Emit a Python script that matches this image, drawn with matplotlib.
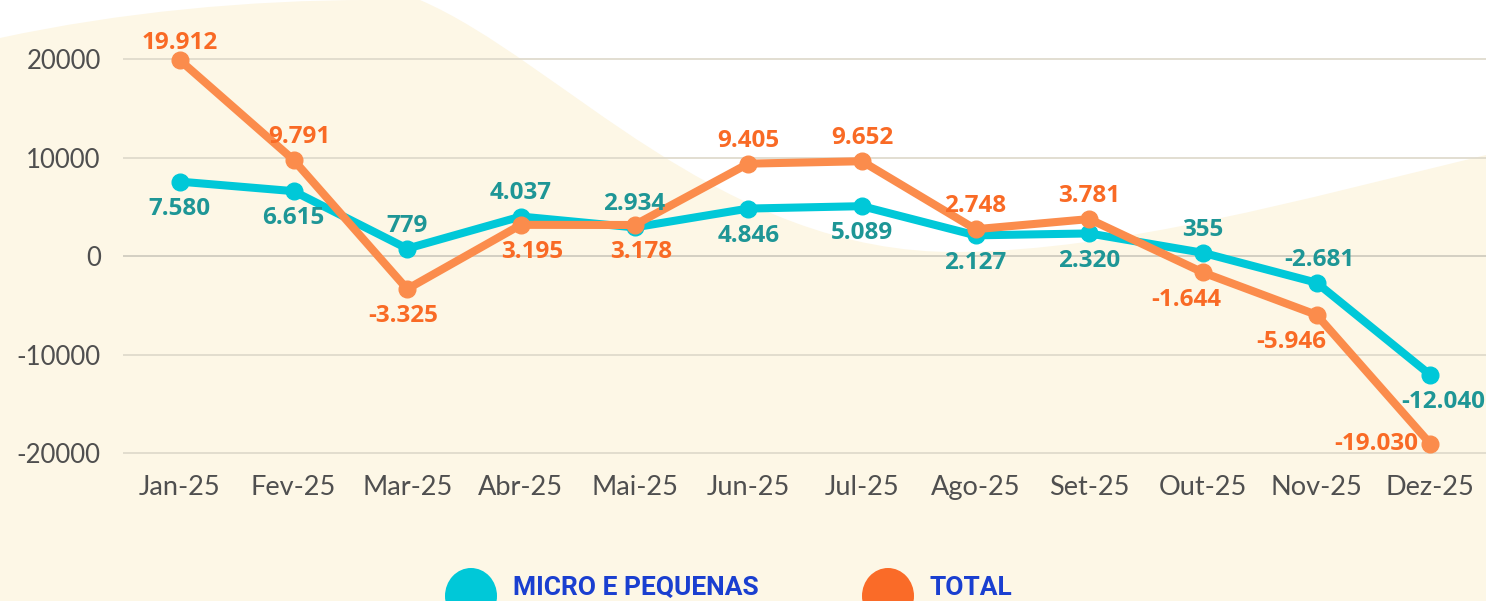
import numpy as np
import matplotlib.pyplot as plt
from matplotlib.path import Path
from matplotlib.patches import PathPatch, Ellipse

plt.rcParams["axes.unicode_minus"] = False

months = ["Jan-25", "Fev-25", "Mar-25", "Abr-25", "Mai-25", "Jun-25",
          "Jul-25", "Ago-25", "Set-25", "Out-25", "Nov-25", "Dez-25"]
micro = [7580, 6615, 779, 4037, 2934, 4846, 5089, 2127, 2320, 355, -2681, -12040]
total = [19912, 9791, -3325, 3195, 3178, 9405, 9652, 2748, 3781, -1644, -5946, -19030]
micro_lbl = ["7.580", "6.615", "779", "4.037", "2.934", "4.846", "5.089", "2.127",
             "2.320", "355", "-2.681", "-12.040"]
total_lbl = ["19.912", "9.791", "-3.325", "3.195", "3.178", "9.405", "9.652", "2.748",
             "3.781", "-1.644", "-5.946", "-19.030"]

# label placement: u=above, d=below, l=left, plus a small sideways nudge (points)
micro_pos = "dduuuddddduu"
micro_pos = "dduuuddddu" + "u" + "d"
micro_dx = [0, 0, 0, 0, 0, 0, 0, 0, 0, 0, 2, 9]
total_pos = "uuddduuuuddl"
total_dx = [0, 4, -3, 8, 5, 0, 0, 0, 0, -12, -18, 0]

beige = "#FDF7E6"
cyan = "#00C8D8"
orange = "#FB8C4C"
teal_txt = "#1E9696"
orange_txt = "#F96A25"
grey = "#4F4F4F"
blue = "#1A3FD0"

W, H = 1486, 601
fig = plt.figure(figsize=(W / 100, H / 100), dpi=100)
fig.patch.set_facecolor(beige)

# background shapes, drawn in pixel coords
bg = fig.add_axes([0, 0, 1, 1], zorder=0)
bg.set_xlim(0, W)
bg.set_ylim(H, 0)
bg.axis("off")
wave = Path([(420, 0), (560, 60), (720, 255), (960, 252),
             (1120, 250), (1300, 200), (W, 155), (W, 0), (420, 0)],
            [Path.MOVETO, Path.CURVE4, Path.CURVE4, Path.CURVE4,
             Path.CURVE4, Path.CURVE4, Path.CURVE4, Path.LINETO, Path.CLOSEPOLY])
bg.add_patch(PathPatch(wave, facecolor="white", edgecolor="none"))
corner = Path([(0, 0), (0, 38), (120, 12), (250, 0), (370, 0), (0, 0)],
              [Path.MOVETO, Path.LINETO, Path.CURVE4, Path.CURVE4, Path.CURVE4, Path.CLOSEPOLY])
bg.add_patch(PathPatch(corner, facecolor="white", edgecolor="none"))

# legend
bg.add_patch(Ellipse((471, 596), 52, 56, facecolor=cyan, edgecolor="none"))
bg.add_patch(Ellipse((888, 596), 52, 56, facecolor="#FA6B28", edgecolor="none"))
for lx, txt in [(513, "MICRO E PEQUENAS"), (930, "TOTAL")]:
    bg.text(lx, 600, txt, color=blue, fontsize=19, fontweight="bold",
            family=["Roboto", "DejaVu Sans"], va="bottom", ha="left")

ax = fig.add_axes([123 / W, 1 - 460 / H, 1 - 123 / W, 460 / H], zorder=1)
ax.patch.set_alpha(0)
x = np.arange(len(months))
ax.set_xlim(-0.5, 11.49)
ax.set_ylim(-20680, 26020)

ax.set_yticks([-20000, -10000, 0, 10000, 20000])
ax.grid(True, axis="y", color="#DDD8CA", linewidth=1.2, zorder=0)
ax.axhline(0, color="#9A9A9A", linewidth=1.2, zorder=1)
for s in ax.spines.values():
    s.set_visible(False)
ax.tick_params(axis="both", length=0, colors=grey)
ax.tick_params(axis="y", pad=16, labelsize=18.5)
ax.tick_params(axis="x", pad=11, labelsize=19.5)
ax.set_xticks(x)
ax.set_xticklabels(months)
for t in ax.get_xticklabels() + ax.get_yticklabels():
    t.set_family(["Lato", "DejaVu Sans"])

ax.plot(x, micro, color=cyan, linewidth=5.8, marker="o", markersize=12,
        solid_capstyle="round", zorder=3, clip_on=False)
ax.plot(x, total, color=orange, linewidth=5.8, marker="o", markersize=12,
        solid_capstyle="round", zorder=4, clip_on=False)


def put_labels(vals, labels, pos, dxs, color):
    for i, (v, s, p, dx) in enumerate(zip(vals, labels, pos, dxs)):
        if p == "u":
            dy = 4 if i == 0 and color == orange_txt else 8
            off, va, ha = (dx, dy), "bottom", "center"
        elif p == "d":
            off, va, ha = (dx, -11), "top", "center"
        else:
            off, va, ha = (-9, 0), "center", "right"
        ax.annotate(s, (i, v), xytext=off, textcoords="offset points", color=color,
                    fontsize=17.5, fontweight="bold", family=["Open Sans", "DejaVu Sans"],
                    ha=ha, va=va, zorder=5, annotation_clip=False)


put_labels(micro, micro_lbl, micro_pos, micro_dx, teal_txt)
put_labels(total, total_lbl, total_pos, total_dx, orange_txt)

fig.savefig("out.png", dpi=100, facecolor=fig.get_facecolor())
